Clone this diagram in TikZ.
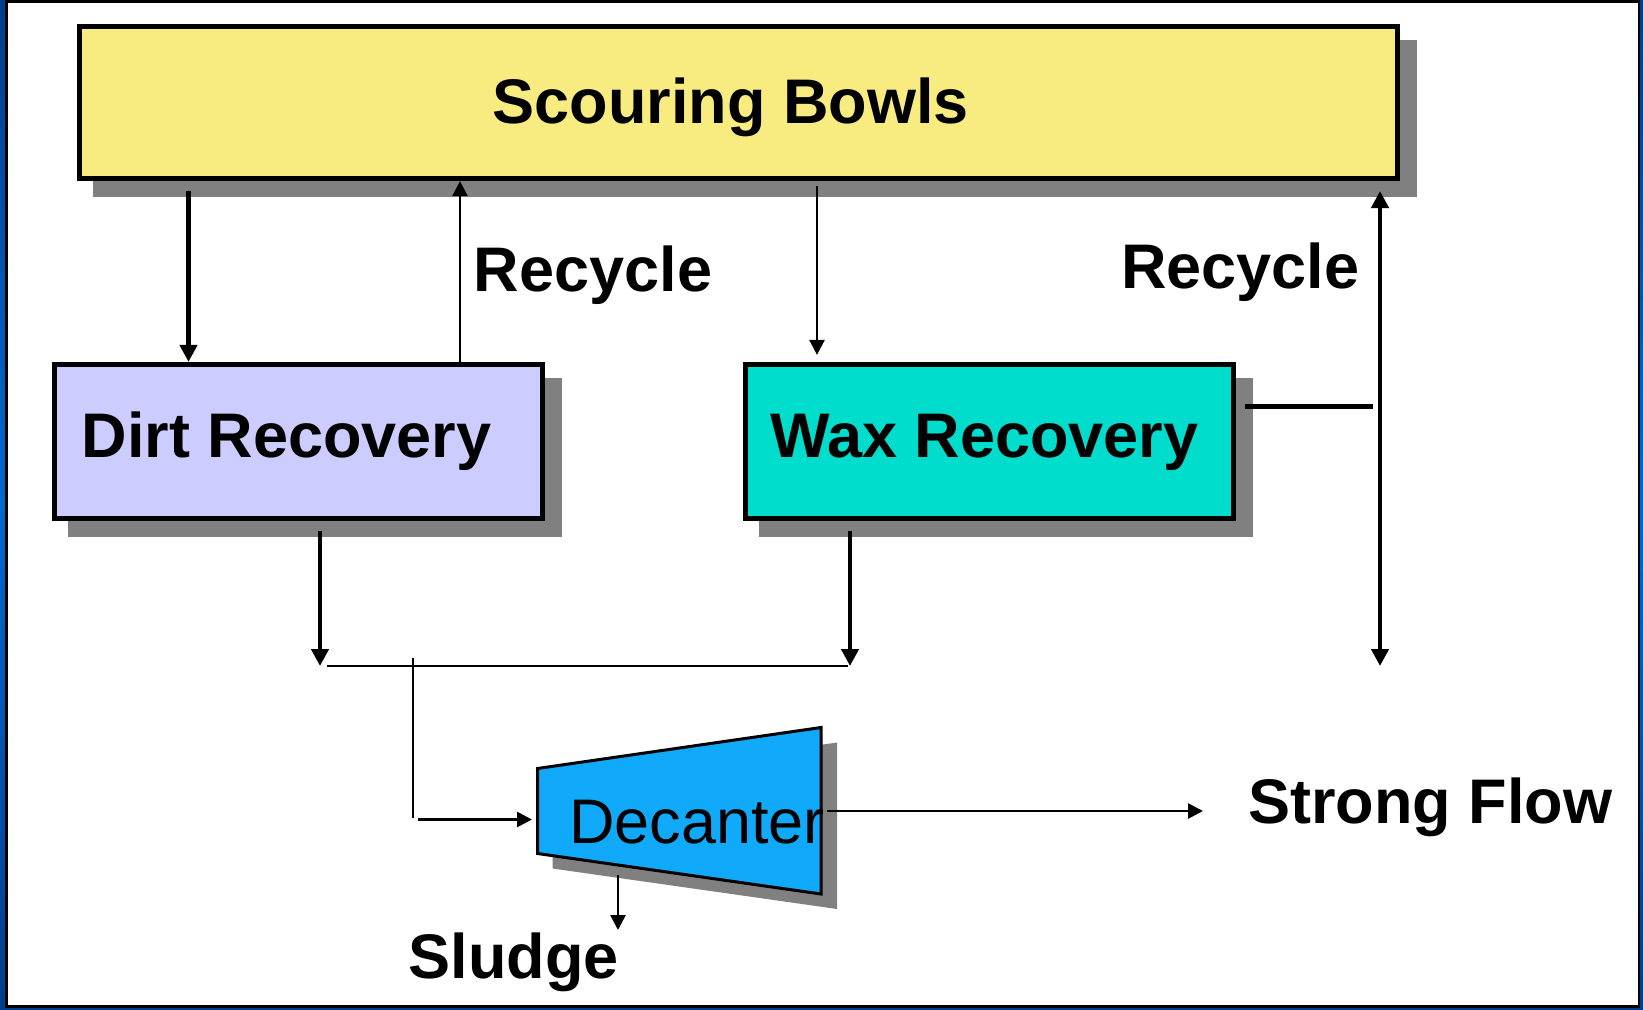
\documentclass[tikz,border=0pt]{standalone}
\usepackage{fontspec}
\setmainfont{Liberation Sans}
\usetikzlibrary{arrows.meta}
\definecolor{bowlyellow}{RGB}{248,236,128}
\definecolor{dirtlav}{RGB}{204,204,255}
\definecolor{waxcyan}{RGB}{0,221,204}
\definecolor{decblue}{RGB}{17,170,250}
\definecolor{shadowgray}{RGB}{128,128,128}
\definecolor{frameblue}{RGB}{0,104,206}
\definecolor{framedark}{RGB}{0,62,140}
\pgfdeclarelayer{framelayer}
\pgfdeclarelayer{shadowlayer}
\pgfsetlayers{framelayer,shadowlayer,main}
\begin{document}
\begin{tikzpicture}[x=1pt,y=-1pt,
  bigfont/.style={font=\fontsize{63}{75}\selectfont\bfseries},
  box/.style={draw=black, line width=4.7pt, inner sep=0pt},
  label/.style={bigfont, inner sep=0pt, anchor=base west},
  thickline/.style={line width=4.5pt},
  thinline/.style={line width=2.6pt},
  thickarr/.style={thickline, -{Triangle[length=17pt,width=17pt]}},
  thinarr/.style={thinline, -{Triangle[length=15pt,width=15pt]}}
]
\useasboundingbox (0,0) rectangle (1643,1009);

% frame
\begin{pgfonlayer}{framelayer}
\shade[top color=framedark, bottom color=framedark, middle color=frameblue] (0,0) rectangle (1643,1009);
\draw[line width=2.6pt, fill=white] (6.5,1.5) rectangle (1639,1006.5);
\end{pgfonlayer}

% boxes
\node[box, fill=bowlyellow, minimum width=1318.5pt, minimum height=152.5pt] (sb) at (738.5,102.5) {};
\node[box, fill=dirtlav, minimum width=488.5pt, minimum height=154.5pt] (dirt) at (298.5,441.5) {};
\node[box, fill=waxcyan, minimum width=488.5pt, minimum height=154.5pt] (wax) at (989.5,441.5) {};

\begin{pgfonlayer}{shadowlayer}
\foreach \n in {sb,dirt,wax}
  \fill[shadowgray] ([shift={(16,16)}]\n.north west) rectangle ([shift={(17,16)}]\n.south east);
\end{pgfonlayer}

% box texts
\node[label] (sbtext) at (492.6,123.5) {Scouring Bowls};
\node[label] (dirttext) at (81.7,457) {Dirt Recovery};
\node[label] (waxtext) at (770,457) {Wax Recovery};

% decanter
\coordinate (d1) at (537.5,768.5);
\coordinate (d2) at (821,727.5);
\coordinate (d3) at (821,894);
\coordinate (d4) at (537.5,853.5);
\fill[shadowgray] ([shift={(15,15)}]d1) -- ([shift={(16,15)}]d2) -- ([shift={(16,15)}]d3) -- ([shift={(15,15)}]d4) -- cycle;
\draw[line width=3pt, fill=decblue, line join=miter] (d1) -- (d2) -- (d3) -- (d4) -- cycle;
\node[font=\fontsize{63}{75}\selectfont, inner sep=0pt, anchor=base west] (dec) at (569,843) {Decanter};

% labels
\node[label] (rec1) at (473.7,291) {Recycle};
\node[label] (rec2) at (1121,288) {Recycle};
\node[label] (sf) at (1248,823.5) {Strong Flow};
\node[label] (sl) at (408.7,978) {Sludge};

% connector coordinates
\coordinate (jl) at (327,666);
\coordinate (jr) at (848,666);
\coordinate (tap) at (413,658);
\coordinate (bend) at (413,818);
\coordinate (bend2) at (418,819.5);
\coordinate (decin) at (532,819.5);
\coordinate (dout) at (827,811);
\coordinate (sfin) at (1203,811);
\coordinate (slout) at (618,875);
\coordinate (slend) at (618,930);
\coordinate (rtop) at (1380,191);
\coordinate (rbot) at (1380,666);
\coordinate (wl) at (1245,406.5);
\coordinate (wr) at (1373,406.5);

% connectors
\draw[thickarr] ([yshift=-10pt]sb.south -| 188.5,0) -- (dirt.north -| 188.5,0);
\draw[thinarr] (dirt.north -| 460,0) -- (sb.south -| 460,0);
\draw[thinarr] ([yshift=-5pt]sb.south -| 817,0) -- ([yshift=7pt]wax.north -| 817,0);
\draw[thickarr] ([yshift=-10pt]dirt.south -| 320,0) -- (jl -| 320,0);
\draw[thickarr] ([yshift=-10pt]wax.south -| 850,0) -- (jr -| 850,0);
\draw[thinline] (jl) -- (jr);
\draw[thinline] (tap) -- (bend);
\draw[thinarr] (bend2) -- (decin);
\draw[thinarr] (dout) -- (sfin);
\draw[thinarr] (slout) -- (slend);
\draw[thickline, {Triangle[length=17pt,width=17pt]}-{Triangle[length=17pt,width=17pt]}] (rtop) -- (rbot);
\draw[thickline] (wl) -- (wr);
\end{tikzpicture}
\end{document}
